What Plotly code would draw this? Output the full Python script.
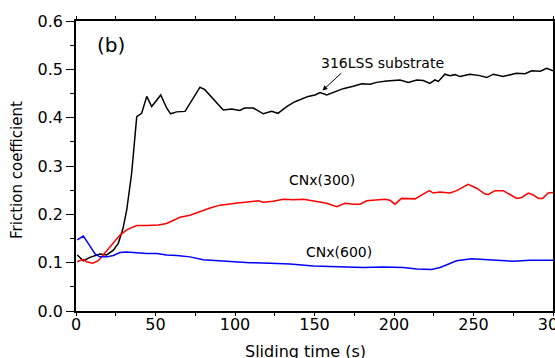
import plotly.graph_objects as go

# Sliding time (s) and friction coefficient for each coating
black_t = [0.8, 4.6, 8.8, 15, 19.3, 23.5, 26.6, 29.5, 31.9, 35, 38.2, 41.3, 44.5, 47.6, 53.3, 57, 59.5,
           63.3, 68.6, 71.7, 75, 78, 81, 84.5, 88.5, 92.6, 97.9, 103, 106, 111.5, 117.8, 123, 127, 132.5,
           137.7, 142, 146, 150.3, 153.5, 157.7, 161.8, 168, 174.4, 179.7, 185, 189, 195.4, 203.8, 209,
           214.3, 218.4, 222.6, 225.8, 227.9, 232, 235.2, 238.4, 241.5, 247.8, 254, 258.3, 262.5, 268.7,
           277, 282.4, 286.6, 292, 296, 300]
black_v = [0.116, 0.104, 0.111, 0.118, 0.116, 0.126, 0.14, 0.17, 0.209, 0.285, 0.402, 0.409, 0.444, 0.423,
           0.447, 0.42, 0.408, 0.412, 0.413, 0.43, 0.449, 0.463, 0.458, 0.445, 0.43, 0.416, 0.418, 0.415,
           0.42, 0.42, 0.408, 0.413, 0.409, 0.423, 0.433, 0.438, 0.444, 0.447, 0.452, 0.447, 0.452, 0.46,
           0.465, 0.47, 0.469, 0.473, 0.476, 0.478, 0.473, 0.478, 0.477, 0.471, 0.478, 0.475, 0.49, 0.487,
           0.489, 0.485, 0.49, 0.487, 0.483, 0.49, 0.485, 0.492, 0.491, 0.497, 0.496, 0.502, 0.497]

red_t = [0.8, 4.6, 6.7, 10.5, 14, 17.2, 22.5, 27.7, 31.9, 38.2, 44.5, 51.8, 57, 65.4, 71.7, 78, 84.3, 90.6,
         96.9, 103, 109.4, 114.7, 117.8, 124, 130.4, 136.7, 143, 151.4, 157.7, 164, 169.2, 174.4, 178.6,
         182.8, 189, 194.3, 197.5, 200.6, 204.8, 213.2, 218.4, 222.2, 224.7, 229, 235.2, 239.4, 246.7,
         252, 257.2, 259.3, 263.5, 268.7, 272.9, 277.2, 280.3, 284.5, 287.6, 290.8, 293.5, 297, 300]
red_v = [0.102, 0.107, 0.102, 0.099, 0.104, 0.116, 0.137, 0.157, 0.168, 0.177, 0.177, 0.178, 0.181, 0.194,
         0.198, 0.206, 0.213, 0.219, 0.222, 0.224, 0.226, 0.228, 0.225, 0.227, 0.231, 0.23, 0.231, 0.226,
         0.223, 0.216, 0.223, 0.221, 0.221, 0.228, 0.23, 0.231, 0.229, 0.221, 0.233, 0.232, 0.242, 0.249,
         0.244, 0.246, 0.244, 0.249, 0.262, 0.254, 0.242, 0.241, 0.249, 0.249, 0.241, 0.233, 0.235, 0.244,
         0.24, 0.233, 0.233, 0.244, 0.245]

blue_t = [0.8, 4.6, 7.7, 12, 15, 19.3, 23.5, 27.7, 31.9, 38.2, 44.5, 50.8, 57, 63.3, 71.7, 80, 88.5, 96.9,
          103, 109.4, 122, 134.6, 149.3, 166, 180.7, 193, 205.9, 214.3, 223.7, 229, 234.3, 239.4, 248.8,
          256.2, 264.6, 275, 285.5, 300]
blue_v = [0.147, 0.155, 0.14, 0.118, 0.112, 0.112, 0.115, 0.121, 0.122, 0.12, 0.119, 0.119, 0.116, 0.115,
          0.112, 0.106, 0.104, 0.102, 0.101, 0.1, 0.099, 0.097, 0.093, 0.092, 0.09, 0.091, 0.09, 0.087,
          0.086, 0.09, 0.098, 0.104, 0.108, 0.106, 0.105, 0.103, 0.105, 0.105]

x_ticks = [0, 50, 100, 150, 200, 250, 300]
y_ticks = [0.0, 0.1, 0.2, 0.3, 0.4, 0.5, 0.6]

FONT = "DejaVu Sans"

fig = go.Figure()
fig.add_trace(go.Scatter(x=black_t, y=black_v, mode="lines", line=dict(color="black", width=1.5),
                         name="316LSS substrate"))
fig.add_trace(go.Scatter(x=red_t, y=red_v, mode="lines", line=dict(color="#ff0000", width=1.5),
                         name="CNx(300)"))
fig.add_trace(go.Scatter(x=blue_t, y=blue_v, mode="lines", line=dict(color="#0000ff", width=1.5),
                         name="CNx(600)"))

fig.update_layout(
    width=555, height=358,
    margin=dict(l=76, r=2, t=21, b=47, autoexpand=False),
    paper_bgcolor="white", plot_bgcolor="white",
    showlegend=False,
    font=dict(family=FONT, color="black"),
)
fig.update_xaxes(
    range=[0, 300], tickvals=x_ticks, ticks="outside", ticklen=3, tickwidth=1.2, tickcolor="black",
    showline=True, linecolor="black", linewidth=1.5, mirror="ticks", showgrid=False, zeroline=False,
    tickfont=dict(family=FONT, size=16, color="black"), ticklabeloverflow="allow", ticklabelstandoff=-5,
    automargin=False,
    minor=dict(dtick=25, ticks="outside", ticklen=3, tickwidth=1.2, tickcolor="black", showgrid=False),
)
fig.update_yaxes(
    range=[0, 0.6], tickvals=y_ticks, tickformat=".1f", ticks="outside", ticklen=8, tickwidth=1.2,
    tickcolor="black", showline=True, linecolor="black", linewidth=1.5, mirror=True, showgrid=False,
    zeroline=False, tickfont=dict(family=FONT, size=16, color="black"), ticklabeloverflow="allow",
    automargin=False,
    minor=dict(dtick=0.05, ticks="outside", ticklen=4, tickwidth=1.2, tickcolor="black", showgrid=False),
)

ann_font = dict(family=FONT, size=14, color="black")
fig.add_annotation(x=-0.124, y=0.486, xref="paper", yref="paper", text="Friction coefficient",
                   textangle=-90, showarrow=False, xanchor="center", yanchor="middle",
                   font=dict(family=FONT, size=15, color="black"))
fig.add_annotation(x=0.482, y=-0.138, xref="paper", yref="paper", text="Sliding time (s)",
                   showarrow=False, xanchor="center", yanchor="middle",
                   font=dict(family=FONT, size=16, color="black"))
fig.add_annotation(x=0.0744, y=0.917, xref="paper", yref="paper", text="(b)", showarrow=False,
                   xanchor="center", yanchor="middle", font=dict(family=FONT, size=20, color="black"))
fig.add_annotation(x=192.8, y=0.513, text="316LSS substrate", showarrow=False, font=ann_font)
fig.add_annotation(x=155, y=0.456, ax=167.8, ay=0.495, axref="x", ayref="y", xref="x", yref="y",
                   text="", showarrow=True, arrowhead=2, arrowsize=1, arrowwidth=1, arrowcolor="black")
fig.add_annotation(x=154.7, y=0.271, text="CNx(300)", showarrow=False, font=ann_font)
fig.add_annotation(x=165.4, y=0.122, text="CNx(600)", showarrow=False, font=ann_font)

fig.write_html("out.html")
